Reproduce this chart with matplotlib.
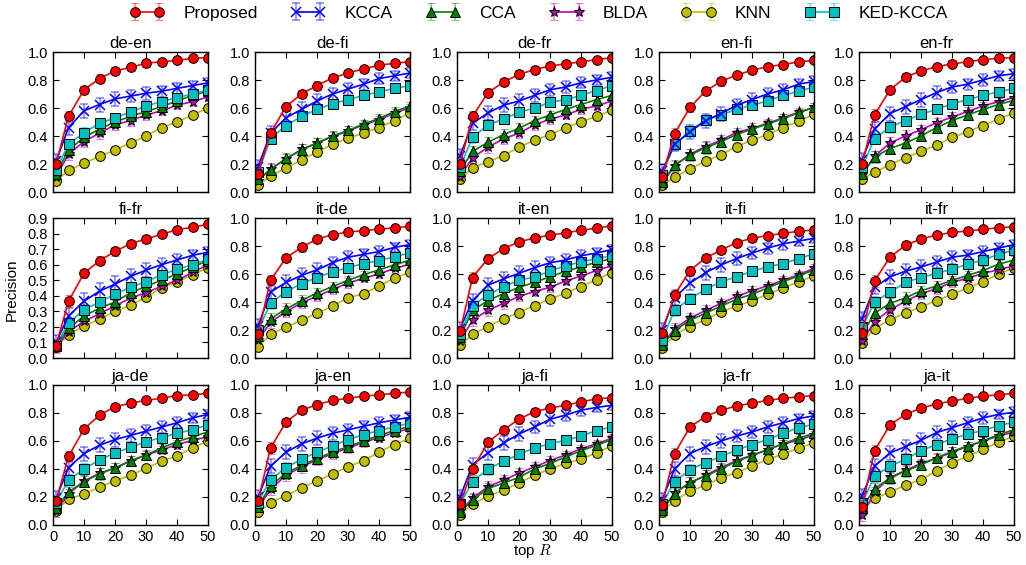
import matplotlib
matplotlib.use("Agg")
import matplotlib.pyplot as plt
import numpy as np

plt.rcParams['font.family'] = ['Liberation Sans', 'DejaVu Sans']
plt.rcParams['xtick.direction'] = 'in'
plt.rcParams['ytick.direction'] = 'in'
plt.rcParams['xtick.top'] = True
plt.rcParams['ytick.right'] = True
plt.rcParams['mathtext.fontset'] = 'cm'

x_vals = [1, 5, 10, 15, 20, 25, 30, 35, 40, 45, 50]
methods = ["Proposed", "KCCA", "CCA", "BLDA", "KNN", "KED-KCCA"]
colors = {"Proposed": "red", "KCCA": "blue", "CCA": "green", "BLDA": "m",
          "KNN": "y", "KED-KCCA": "c"}
markers = {"Proposed": "o", "KCCA": "x", "CCA": "^", "BLDA": "*",
           "KNN": "o", "KED-KCCA": "s"}

# typical error half-widths per method (read approx. from picture)
err_proposed = [0.04, 0.04, 0.03, 0.03, 0.03, 0.025, 0.025, 0.02, 0.02, 0.02, 0.02]
err_kcca = [0.05, 0.05, 0.05, 0.05, 0.05, 0.045, 0.045, 0.04, 0.04, 0.035, 0.035]
err_cca = [0.03, 0.04, 0.04, 0.04, 0.035, 0.035, 0.03, 0.03, 0.03, 0.03, 0.03]
err_blda = [0.04, 0.04, 0.04, 0.04, 0.035, 0.035, 0.035, 0.03, 0.03, 0.03, 0.03]
err_knn = [0.03, 0.03, 0.03, 0.03, 0.03, 0.03, 0.03, 0.03, 0.03, 0.03, 0.03]
err_ked = [0.03, 0.04, 0.04, 0.035, 0.035, 0.035, 0.03, 0.03, 0.03, 0.03, 0.03]
errors = {"Proposed": err_proposed, "KCCA": err_kcca, "CCA": err_cca,
          "BLDA": err_blda, "KNN": err_knn, "KED-KCCA": err_ked}

titles = ["de-en", "de-fi", "de-fr", "en-fi", "en-fr",
          "fi-fr", "it-de", "it-en", "it-fi", "it-fr",
          "ja-de", "ja-en", "ja-fi", "ja-fr", "ja-it"]

# order: Proposed, KCCA, CCA, BLDA, KNN, KED-KCCA
de_en = [
    [0.20, 0.54, 0.73, 0.81, 0.865, 0.89, 0.92, 0.93, 0.94, 0.955, 0.96],
    [0.22, 0.46, 0.58, 0.625, 0.665, 0.685, 0.705, 0.72, 0.74, 0.76, 0.78],
    [0.13, 0.30, 0.39, 0.45, 0.50, 0.54, 0.575, 0.61, 0.65, 0.69, 0.72],
    [0.11, 0.27, 0.36, 0.42, 0.48, 0.51, 0.55, 0.58, 0.62, 0.645, 0.68],
    [0.08, 0.155, 0.205, 0.255, 0.30, 0.35, 0.40, 0.46, 0.50, 0.55, 0.60],
    [0.16, 0.34, 0.425, 0.49, 0.53, 0.57, 0.615, 0.645, 0.675, 0.70, 0.73],
]
de_fi = [
    [0.13, 0.42, 0.61, 0.70, 0.76, 0.815, 0.85, 0.88, 0.905, 0.92, 0.93],
    [0.18, 0.42, 0.53, 0.59, 0.65, 0.70, 0.735, 0.77, 0.81, 0.83, 0.85],
    [0.09, 0.16, 0.24, 0.30, 0.35, 0.40, 0.44, 0.485, 0.525, 0.575, 0.615],
    [0.08, 0.165, 0.235, 0.305, 0.35, 0.395, 0.435, 0.48, 0.515, 0.565, 0.60],
    [0.05, 0.115, 0.17, 0.23, 0.285, 0.34, 0.385, 0.42, 0.46, 0.51, 0.565],
    [0.14, 0.38, 0.475, 0.54, 0.59, 0.63, 0.66, 0.69, 0.715, 0.74, 0.76],
]
de_fr = [
    [0.20, 0.54, 0.71, 0.785, 0.84, 0.875, 0.90, 0.915, 0.93, 0.945, 0.96],
    [0.26, 0.49, 0.565, 0.62, 0.65, 0.69, 0.73, 0.75, 0.78, 0.80, 0.82],
    [0.15, 0.29, 0.355, 0.41, 0.455, 0.51, 0.55, 0.59, 0.625, 0.66, 0.69],
    [0.11, 0.245, 0.32, 0.38, 0.42, 0.48, 0.52, 0.55, 0.59, 0.615, 0.65],
    [0.09, 0.175, 0.215, 0.26, 0.32, 0.37, 0.41, 0.46, 0.50, 0.54, 0.585],
    [0.18, 0.39, 0.48, 0.52, 0.57, 0.60, 0.64, 0.66, 0.69, 0.725, 0.76],
]
en_fi = [
    [0.11, 0.415, 0.605, 0.72, 0.79, 0.835, 0.87, 0.895, 0.91, 0.93, 0.94],
    [0.15, 0.34, 0.43, 0.51, 0.56, 0.62, 0.66, 0.70, 0.73, 0.77, 0.79],
    [0.07, 0.19, 0.265, 0.315, 0.36, 0.41, 0.45, 0.485, 0.525, 0.565, 0.605],
    [0.06, 0.185, 0.27, 0.325, 0.37, 0.425, 0.455, 0.49, 0.53, 0.57, 0.605],
    [0.05, 0.105, 0.165, 0.22, 0.265, 0.325, 0.37, 0.41, 0.46, 0.505, 0.555],
    [0.12, 0.34, 0.435, 0.515, 0.55, 0.59, 0.62, 0.65, 0.69, 0.72, 0.75],
]
en_fr = [
    [0.20, 0.55, 0.73, 0.82, 0.865, 0.895, 0.915, 0.93, 0.945, 0.955, 0.96],
    [0.23, 0.45, 0.56, 0.61, 0.66, 0.71, 0.75, 0.77, 0.80, 0.83, 0.845],
    [0.13, 0.25, 0.31, 0.35, 0.40, 0.46, 0.51, 0.55, 0.59, 0.625, 0.655],
    [0.12, 0.255, 0.35, 0.40, 0.445, 0.495, 0.535, 0.575, 0.615, 0.645, 0.675],
    [0.09, 0.14, 0.195, 0.245, 0.29, 0.335, 0.39, 0.43, 0.475, 0.52, 0.565],
    [0.18, 0.38, 0.465, 0.51, 0.555, 0.59, 0.63, 0.66, 0.69, 0.715, 0.74],
]
fi_fr = [
    [0.08, 0.365, 0.545, 0.625, 0.685, 0.735, 0.765, 0.795, 0.825, 0.84, 0.86],
    [0.10, 0.27, 0.365, 0.43, 0.475, 0.525, 0.565, 0.60, 0.63, 0.66, 0.68],
    [0.08, 0.19, 0.27, 0.32, 0.36, 0.42, 0.46, 0.50, 0.54, 0.585, 0.625],
    [0.07, 0.17, 0.235, 0.285, 0.335, 0.385, 0.42, 0.46, 0.50, 0.55, 0.60],
    [0.07, 0.15, 0.205, 0.25, 0.30, 0.34, 0.39, 0.45, 0.49, 0.535, 0.58],
    [0.08, 0.225, 0.31, 0.36, 0.41, 0.455, 0.49, 0.535, 0.57, 0.60, 0.635],
]
it_de = [
    [0.17, 0.555, 0.715, 0.79, 0.85, 0.88, 0.90, 0.91, 0.92, 0.93, 0.94],
    [0.23, 0.47, 0.54, 0.59, 0.63, 0.68, 0.72, 0.74, 0.76, 0.79, 0.81],
    [0.16, 0.28, 0.35, 0.41, 0.465, 0.51, 0.555, 0.595, 0.63, 0.665, 0.70],
    [0.13, 0.255, 0.33, 0.395, 0.44, 0.49, 0.535, 0.57, 0.60, 0.64, 0.67],
    [0.08, 0.17, 0.22, 0.27, 0.32, 0.37, 0.43, 0.46, 0.515, 0.57, 0.615],
    [0.20, 0.39, 0.475, 0.53, 0.575, 0.615, 0.645, 0.675, 0.695, 0.725, 0.75],
]
it_en = [
    [0.19, 0.575, 0.71, 0.78, 0.83, 0.857, 0.878, 0.893, 0.912, 0.928, 0.943],
    [0.21, 0.41, 0.52, 0.565, 0.605, 0.645, 0.68, 0.70, 0.73, 0.75, 0.775],
    [0.15, 0.34, 0.41, 0.46, 0.505, 0.54, 0.58, 0.62, 0.65, 0.685, 0.71],
    [0.12, 0.27, 0.34, 0.39, 0.44, 0.475, 0.505, 0.55, 0.585, 0.625, 0.66],
    [0.09, 0.17, 0.225, 0.28, 0.325, 0.375, 0.42, 0.465, 0.51, 0.56, 0.61],
    [0.17, 0.375, 0.45, 0.51, 0.555, 0.58, 0.62, 0.66, 0.685, 0.71, 0.73],
]
it_fi = [
    [0.18, 0.45, 0.625, 0.715, 0.77, 0.825, 0.855, 0.875, 0.89, 0.905, 0.915],
    [0.20, 0.43, 0.535, 0.61, 0.665, 0.71, 0.75, 0.785, 0.815, 0.835, 0.855],
    [0.09, 0.195, 0.27, 0.32, 0.37, 0.42, 0.455, 0.50, 0.545, 0.585, 0.63],
    [0.09, 0.21, 0.285, 0.34, 0.39, 0.44, 0.48, 0.515, 0.555, 0.595, 0.64],
    [0.07, 0.165, 0.225, 0.275, 0.33, 0.37, 0.41, 0.455, 0.50, 0.545, 0.585],
    [0.13, 0.34, 0.425, 0.49, 0.545, 0.58, 0.62, 0.65, 0.675, 0.71, 0.745],
]
it_fr = [
    [0.18, 0.55, 0.72, 0.805, 0.85, 0.878, 0.897, 0.907, 0.919, 0.93, 0.937],
    [0.28, 0.505, 0.58, 0.62, 0.65, 0.685, 0.72, 0.735, 0.76, 0.785, 0.81],
    [0.17, 0.32, 0.39, 0.43, 0.48, 0.515, 0.555, 0.59, 0.625, 0.67, 0.70],
    [0.12, 0.26, 0.345, 0.405, 0.46, 0.495, 0.54, 0.57, 0.605, 0.63, 0.66],
    [0.11, 0.21, 0.275, 0.32, 0.365, 0.41, 0.455, 0.50, 0.545, 0.60, 0.645],
    [0.22, 0.40, 0.47, 0.54, 0.575, 0.605, 0.635, 0.67, 0.70, 0.74, 0.77],
]
ja_de = [
    [0.17, 0.49, 0.685, 0.785, 0.845, 0.87, 0.89, 0.905, 0.925, 0.93, 0.94],
    [0.19, 0.41, 0.51, 0.57, 0.61, 0.64, 0.67, 0.70, 0.73, 0.765, 0.79],
    [0.12, 0.235, 0.31, 0.365, 0.41, 0.455, 0.50, 0.55, 0.595, 0.63, 0.665],
    [0.10, 0.22, 0.315, 0.37, 0.405, 0.46, 0.50, 0.535, 0.575, 0.605, 0.63],
    [0.10, 0.185, 0.22, 0.27, 0.315, 0.355, 0.405, 0.455, 0.495, 0.55, 0.60],
    [0.16, 0.32, 0.40, 0.465, 0.515, 0.555, 0.595, 0.625, 0.655, 0.68, 0.715],
]
ja_en = [
    [0.17, 0.55, 0.735, 0.82, 0.86, 0.89, 0.905, 0.92, 0.93, 0.94, 0.95],
    [0.20, 0.42, 0.52, 0.58, 0.62, 0.655, 0.68, 0.705, 0.73, 0.75, 0.77],
    [0.13, 0.28, 0.37, 0.425, 0.475, 0.52, 0.56, 0.60, 0.64, 0.675, 0.705],
    [0.12, 0.255, 0.355, 0.415, 0.465, 0.51, 0.55, 0.59, 0.625, 0.66, 0.69],
    [0.09, 0.16, 0.21, 0.265, 0.315, 0.365, 0.415, 0.46, 0.52, 0.575, 0.62],
    [0.16, 0.325, 0.41, 0.47, 0.52, 0.565, 0.61, 0.645, 0.675, 0.70, 0.73],
]
ja_fi = [
    [0.15, 0.40, 0.59, 0.68, 0.755, 0.81, 0.835, 0.855, 0.88, 0.90, 0.91],
    [0.20, 0.43, 0.515, 0.585, 0.65, 0.70, 0.755, 0.785, 0.82, 0.84, 0.855],
    [0.09, 0.18, 0.26, 0.30, 0.34, 0.40, 0.44, 0.485, 0.53, 0.57, 0.61],
    [0.10, 0.19, 0.275, 0.32, 0.37, 0.415, 0.46, 0.50, 0.545, 0.58, 0.62],
    [0.075, 0.15, 0.205, 0.25, 0.30, 0.355, 0.40, 0.44, 0.47, 0.515, 0.565],
    [0.15, 0.31, 0.40, 0.455, 0.505, 0.55, 0.58, 0.605, 0.635, 0.675, 0.70],
]
ja_fr = [
    [0.14, 0.51, 0.70, 0.775, 0.82, 0.85, 0.87, 0.89, 0.905, 0.915, 0.925],
    [0.18, 0.40, 0.51, 0.56, 0.60, 0.635, 0.665, 0.70, 0.73, 0.76, 0.78],
    [0.11, 0.225, 0.305, 0.35, 0.40, 0.455, 0.495, 0.54, 0.58, 0.62, 0.655],
    [0.10, 0.23, 0.30, 0.355, 0.41, 0.46, 0.50, 0.535, 0.58, 0.605, 0.645],
    [0.095, 0.175, 0.24, 0.285, 0.335, 0.375, 0.42, 0.47, 0.505, 0.55, 0.585],
    [0.15, 0.31, 0.395, 0.445, 0.49, 0.535, 0.575, 0.61, 0.655, 0.695, 0.72],
]
ja_it = [
    [0.13, 0.53, 0.715, 0.79, 0.835, 0.865, 0.885, 0.905, 0.92, 0.93, 0.94],
    [0.21, 0.42, 0.515, 0.56, 0.605, 0.66, 0.695, 0.73, 0.765, 0.79, 0.805],
    [0.12, 0.26, 0.335, 0.385, 0.43, 0.48, 0.525, 0.565, 0.60, 0.645, 0.68],
    [0.07, 0.235, 0.34, 0.39, 0.44, 0.475, 0.52, 0.56, 0.60, 0.635, 0.665],
    [0.10, 0.19, 0.235, 0.285, 0.325, 0.385, 0.445, 0.49, 0.54, 0.59, 0.635],
    [0.155, 0.35, 0.42, 0.47, 0.53, 0.575, 0.615, 0.65, 0.675, 0.71, 0.735],
]

panels = [de_en, de_fi, de_fr, en_fi, en_fr,
          fi_fr, it_de, it_en, it_fi, it_fr,
          ja_de, ja_en, ja_fi, ja_fr, ja_it]

W, H = 1026, 565
fig = plt.figure(figsize=(W / 100, H / 100), dpi=100)

col_left = [53, 255, 457, 659, 859]
row_top = [52, 218, 385]
aw, ah = 155, 140

# draw order: background series first so Proposed sits on top
draw_order = [4, 3, 2, 5, 1, 0]
handles = {}
for i, (title, data) in enumerate(zip(titles, panels)):
    r, c = divmod(i, 5)
    ax = fig.add_axes([col_left[c] / W, 1 - (row_top[r] + ah) / H, aw / W, ah / H])
    for k in draw_order:
        m = methods[k]
        col = colors[m]
        ms = {"o": 7, "x": 7, "^": 6.5, "*": 8, "s": 6.5}[markers[m]]
        eb = ax.errorbar(x_vals, data[k], yerr=errors[m], color=col,
                         marker=markers[m], markersize=ms,
                         markeredgecolor="k" if m != "KCCA" else col,
                         markeredgewidth=0.7 if m != "KCCA" else 1.1,
                         linewidth=1.2, capsize=3, elinewidth=1.1, capthick=1.1,
                         ecolor=col, label=m)
        for bar in eb[2]:
            bar.set_alpha(0.5)
        for cap in eb[1]:
            cap.set_alpha(0.5)
        handles[m] = eb
    ax.set_xlim(0, 50)
    if title == "fi-fr":
        ax.set_ylim(0, 0.9)
        ax.set_yticks(np.arange(0, 0.91, 0.1))
    else:
        ax.set_ylim(0, 1.0)
        ax.set_yticks(np.arange(0, 1.01, 0.2))
    ax.set_xticks([0, 10, 20, 30, 40, 50])
    if r < 2:
        ax.set_xticklabels([])
    ax.tick_params(labelsize=10.5, length=4, width=0.8)
    ax.set_title(title, fontsize=12, pad=3)
    for s in ax.spines.values():
        s.set_linewidth(1.0)

fig.legend([handles[m] for m in methods], methods, loc="upper center",
           bbox_to_anchor=(0.525, 1.018), ncol=6, frameon=False, fontsize=12.5,
           numpoints=2, handlelength=2.0, columnspacing=1.9, handletextpad=1.1)
fig.text(532 / W, 1 - 551 / H, "top $R$", ha="center", va="center", fontsize=11)
fig.text(12 / W, 1 - 290 / H, "Precision", ha="center", va="center",
         rotation=90, fontsize=11)

fig.savefig("out.png", dpi=100)
